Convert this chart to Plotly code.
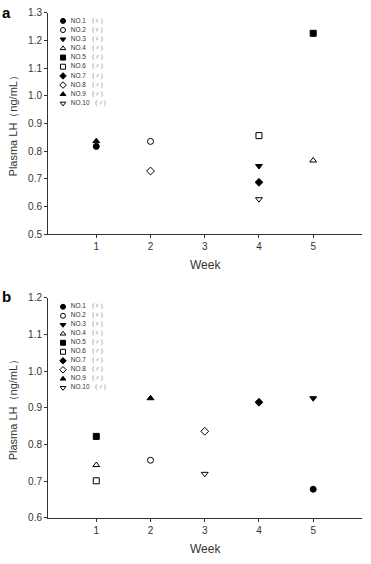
import plotly.graph_objects as go

# ---------------- data ----------------
subjects = ["NO.1", "NO.2", "NO.3", "NO.4", "NO.5", "NO.6", "NO.7", "NO.8", "NO.9", "NO.10"]
symbols = ["circle", "circle-open", "triangle-down", "triangle-up-open", "square",
           "square-open", "diamond", "diamond-open", "triangle-up", "triangle-down-open"]
gender_a = ["♀", "♀", "♀", "♂", "♂", "♂", "♂", "♂", "♂", "♂"]
gender_b = ["♀", "♀", "♀", "♀", "♂", "♂", "♂", "♂", "♂", "♂"]

a_subject = ["NO.1", "NO.9", "NO.2", "NO.8", "NO.6", "NO.3", "NO.7", "NO.10", "NO.5", "NO.4"]
a_week = [1, 1, 2, 2, 4, 4, 4, 4, 5, 5]
a_lh = [0.817, 0.836, 0.835, 0.728, 0.856, 0.746, 0.687, 0.626, 1.226, 0.766]

b_subject = ["NO.5", "NO.4", "NO.6", "NO.9", "NO.2", "NO.8", "NO.10", "NO.7", "NO.3", "NO.1"]
b_week = [1, 1, 1, 2, 2, 3, 3, 4, 5, 5]
b_lh = [0.822, 0.744, 0.701, 0.926, 0.757, 0.836, 0.720, 0.915, 0.926, 0.678]

week_ticks = [1, 2, 3, 4, 5]
a_yticks = [0.5, 0.6, 0.7, 0.8, 0.9, 1.0, 1.1, 1.2, 1.3]
b_yticks = [0.6, 0.7, 0.8, 0.9, 1.0, 1.1, 1.2]

# ---------------- layout constants ----------------
W, H = 371, 564
FONT = "Liberation Sans, Arial, sans-serif"
GREY = "#333333"

def px_x(v):
    return v / W

def px_y(v):
    return 1 - v / H

fig = go.Figure()

def add_panel(subj, wk, lh, xa, ya):
    for s, sym in zip(subjects, symbols):
        xs = [w for w, n in zip(wk, subj) if n == s]
        ys = [v for v, n in zip(lh, subj) if n == s]
        if not xs:
            continue
        fig.add_trace(go.Scatter(
            x=xs, y=ys, mode="markers", xaxis=xa, yaxis=ya, showlegend=False,
            marker=dict(symbol=sym, size=6, color="black",
                        line=dict(color="black", width=1)),
            hoverinfo="x+y"))

add_panel(a_subject, a_week, a_lh, "x", "y")
add_panel(b_subject, b_week, b_lh, "x2", "y2")

# custom compact legends, drawn in a pixel-coordinate overlay axis
def add_legend(genders, x0, y0, dy):
    for i, (s, sym, g) in enumerate(zip(subjects, symbols, genders)):
        fig.add_trace(go.Scatter(
            x=[x0], y=[y0 + i * dy], mode="markers+text", xaxis="x3", yaxis="y3",
            showlegend=False, hoverinfo="skip",
            marker=dict(symbol=sym, size=5, color="black",
                        line=dict(color="black", width=1)),
            text=["  " + s + " <span style='color:#777777'>（" + g + "）</span>"],
            textposition="middle right",
            textfont=dict(family=FONT, size=6.5, color=GREY)))

add_legend(gender_a, 63, 15.2, 9.37)
add_legend(gender_b, 63, 307.3, 9.2)

xax = dict(range=[0.11, 5.9], tickvals=week_ticks, ticks="outside", ticklen=3,
           tickcolor=GREY, showline=True, linecolor=GREY, linewidth=1,
           showgrid=False, zeroline=False,
           tickfont=dict(family=FONT, size=10, color=GREY))
yax_common = dict(ticks="outside", ticklen=3, tickcolor=GREY, showline=True,
                  linecolor=GREY, linewidth=1, showgrid=False, zeroline=False,
                  tickformat=".1f", tickfont=dict(family=FONT, size=10, color=GREY))

fig.update_layout(
    width=W, height=H, margin=dict(l=0, r=0, t=0, b=0),
    paper_bgcolor="white", plot_bgcolor="rgba(0,0,0,0)", showlegend=False,
    xaxis=dict(xax, domain=[px_x(48), px_x(362)], anchor="y"),
    yaxis=dict(yax_common, domain=[px_y(233), px_y(7)], range=[0.5, 1.3],
               tickvals=a_yticks, anchor="x"),
    xaxis2=dict(xax, domain=[px_x(48), px_x(362)], anchor="y2"),
    yaxis2=dict(yax_common, domain=[px_y(523), px_y(298)], range=[0.6, 1.2],
                tickvals=b_yticks, anchor="x2"),
    xaxis3=dict(domain=[0, 1], range=[0, W], visible=False, fixedrange=True,
                anchor="y3"),
    yaxis3=dict(domain=[0, 1], range=[H, 0], visible=False, fixedrange=True,
                anchor="x3"),
)

ann = []
for lbl, y in (("a", 7), ("b", 297)):
    ann.append(dict(text="<b>" + lbl + "</b>", x=px_x(6), y=px_y(y), xref="paper",
                    yref="paper", showarrow=False, xanchor="center", yanchor="middle",
                    font=dict(family=FONT, size=15, color="black")))
for y in (265, 555):
    ann.append(dict(text="Week", x=px_x(205), y=px_y(y), xref="paper", yref="paper",
                    showarrow=False, xanchor="center", yanchor="middle",
                    font=dict(family=FONT, size=12, color=GREY)))
for y in (120, 410):
    ann.append(dict(text="Plasma LH（ng/mL）", x=px_x(13), y=px_y(y), xref="paper",
                    yref="paper", showarrow=False, textangle=-90,
                    xanchor="center", yanchor="middle",
                    font=dict(family=FONT, size=11, color=GREY)))
fig.update_layout(annotations=ann)

fig.write_html("out.html", config={"displayModeBar": False},
               post_script="document.body.style.margin='0';document.body.style.overflow='hidden';")
